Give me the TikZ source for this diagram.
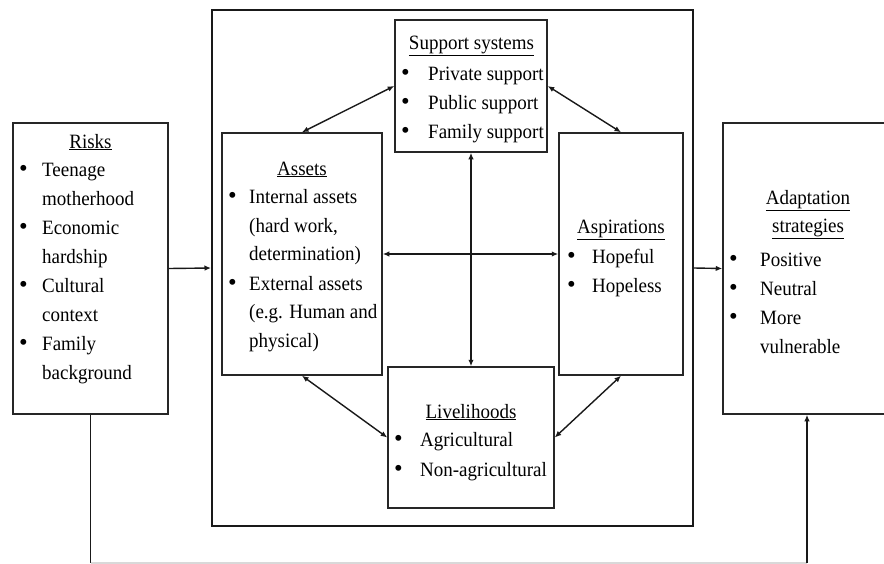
\documentclass[tikz,border=0pt]{standalone}
\usepackage{fontspec}
\setmainfont{Liberation Serif}
\usetikzlibrary{arrows.meta}
\newcommand{\tx}[1]{\scalebox{1}[1.07]{#1}}
\newcommand{\bu}{\raisebox{-0.3pt}{\scalebox{1.3}{•}}}
\begin{document}
\begin{tikzpicture}[x=1pt,y=-1pt,
  box/.style={draw=black!85, line width=1.5pt, inner sep=0pt, fill=white},
  bigbox/.style={draw=black!90, line width=2pt, inner sep=0pt},
  txt/.style={anchor=base west, inner sep=0pt, font=\fontsize{19}{29}\selectfont},
  ttl/.style={anchor=base, inner sep=0pt, font=\fontsize{19}{29}\selectfont},
  conn/.style={line width=1.4pt, draw=black!90},
  tip/.style={-{Latex[length=6.5pt,width=5.5pt]}},
  dtip/.style={{Latex[length=6.5pt,width=5.5pt]}-{Latex[length=6.5pt,width=5.5pt]}}
]
\useasboundingbox[fill=white] (0,0) rectangle (884,563);

% boxes
\node[bigbox, minimum width=481pt, minimum height=516pt] (big) at (452.5,268) {};
\node[box, minimum width=155pt, minimum height=291pt] (risks) at (90.5,268.5) {};
\node[box, minimum width=163pt, minimum height=291pt] (adapt) at (804.5,268.5) {};
\node[box, minimum width=152pt, minimum height=132pt] (support) at (471,86) {};
\node[box, minimum width=160pt, minimum height=242pt] (assets) at (302,254) {};
\node[box, minimum width=166pt, minimum height=141pt] (liveli) at (471,437.5) {};
\node[box, minimum width=124pt, minimum height=242pt] (aspir) at (621,254) {};

% Risks text
\node[ttl] (rT) at (90.5,148) {\tx{\underline{Risks}}};
\node[txt] (rb1) at (19,176) {\bu};
\node[txt] (r1) at (42,176) {\tx{Teenage}};
\node[txt] (r2) at (42,205) {\tx{motherhood}};
\node[txt] (rb2) at (19,234) {\bu};
\node[txt] (r3) at (42,234) {\tx{Economic}};
\node[txt] (r4) at (42,263) {\tx{hardship}};
\node[txt] (rb3) at (19,292) {\bu};
\node[txt] (r5) at (42,292) {\tx{Cultural}};
\node[txt] (r6) at (42,321) {\tx{context}};
\node[txt] (rb4) at (19,350) {\bu};
\node[txt] (r7) at (42,350) {\tx{Family}};
\node[txt] (r8) at (42,379) {\tx{background}};

% Support systems text
\node[ttl] (sT) at (471.5,49) {\tx{\underline{Support systems}}};
\node[txt] (sb1) at (401,80) {\bu};
\node[txt] (s1) at (428,80) {\tx{Private support}};
\node[txt] (sb2) at (401,109) {\bu};
\node[txt] (s2) at (428,109) {\tx{Public support}};
\node[txt] (sb3) at (401,138) {\bu};
\node[txt] (s3) at (428,138) {\tx{Family support}};

% Assets text
\node[ttl] (aT) at (302,175) {\tx{\underline{Assets}}};
\node[txt] (ab1) at (228,203) {\bu};
\node[txt] (a1) at (249,203) {\tx{Internal assets}};
\node[txt] (a2) at (249,232) {\tx{(hard work,}};
\node[txt] (a3) at (249,260) {\tx{determination)}};
\node[txt] (ab2) at (228,290) {\bu};
\node[txt] (a4) at (249,290) {\tx{External assets}};
\node[txt] (a5) at (249,318) {\tx{(e.g. Human and}};
\node[txt] (a6) at (249,347) {\tx{physical)}};

% Livelihoods text
\node[ttl] (lT) at (471,418) {\tx{\underline{Livelihoods}}};
\node[txt] (lb1) at (394,446) {\bu};
\node[txt] (l1) at (420,446) {\tx{Agricultural}};
\node[txt] (lb2) at (394,476) {\bu};
\node[txt] (l2) at (420,476) {\tx{Non-agricultural}};

% Aspirations text
\node[ttl] (pT) at (621,233) {\tx{\underline{Aspirations}}};
\node[txt] (pb1) at (567,263) {\bu};
\node[txt] (p1) at (592,263) {\tx{Hopeful}};
\node[txt] (pb2) at (567,292) {\bu};
\node[txt] (p2) at (592,292) {\tx{Hopeless}};

% Adaptation text
\node[ttl] (dT1) at (808,204) {\tx{\underline{Adaptation}}};
\node[ttl] (dT2) at (808,232) {\tx{\underline{strategies}}};
\node[txt] (db1) at (729,266) {\bu};
\node[txt] (d1) at (760,266) {\tx{Positive}};
\node[txt] (db2) at (729,295) {\bu};
\node[txt] (d2) at (760,295) {\tx{Neutral}};
\node[txt] (db3) at (729,324) {\bu};
\node[txt] (d3) at (760,324) {\tx{More}};
\node[txt] (d4) at (760,353) {\tx{vulnerable}};

% connectors
\draw[conn, tip] (risks.east) -- (big.west);
\draw[conn, tip] (big.east) -- (adapt.west);
\draw[conn, dtip] (assets.north) -- (support.west);
\draw[conn, dtip] (support.east) -- (aspir.north);
\draw[conn, dtip] (assets.east) -- (aspir.west);
\draw[conn, dtip] (support.south) -- (liveli.north);
\draw[conn, dtip] (assets.south) -- (liveli.west);
\draw[conn, dtip] (liveli.east) -- (aspir.south);

\coordinate (c1) at (90.5,563);
\coordinate (c2) at (807,563);
\draw[conn] (risks.south) -- (c1);
\draw[line width=1.5pt, draw=black!15] (c1) -- (c2);
\draw[conn, tip] (c2) -- (c2 |- adapt.south);
\end{tikzpicture}
\end{document}
